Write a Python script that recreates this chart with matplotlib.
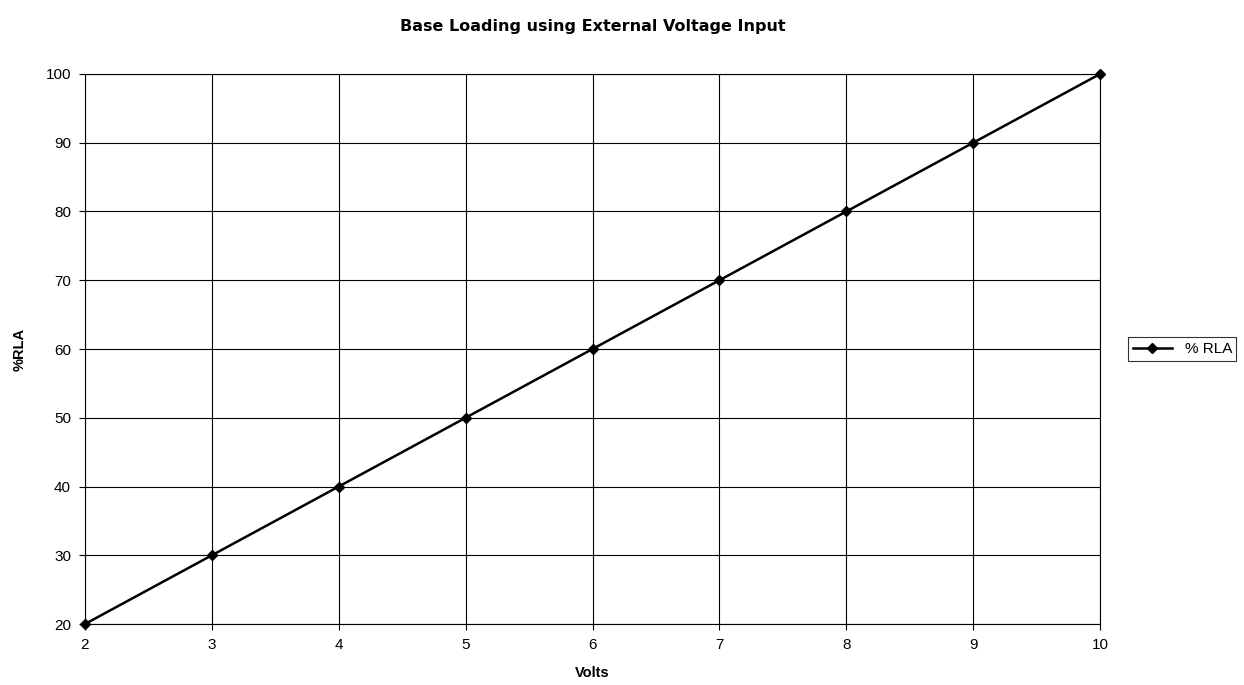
import numpy as np
import matplotlib
matplotlib.use('Agg')
import matplotlib.pyplot as plt

plt.rcParams['font.family'] = ['Liberation Sans', 'DejaVu Sans']

# data
volts = [2, 3, 4, 5, 6, 7, 8, 9, 10]
rla = [20, 30, 40, 50, 60, 70, 80, 90, 100]
x_ticks = [2, 3, 4, 5, 6, 7, 8, 9, 10]
y_ticks = [20, 30, 40, 50, 60, 70, 80, 90, 100]

fig = plt.figure(figsize=(12.44, 6.85), dpi=100)
ax = fig.add_axes([0.0683, 0.089, 0.816, 0.803])

ax.plot(volts, rla, color='black', lw=1.8, marker='D', ms=5, label='% RLA', clip_on=False, zorder=3)

ax.set_xlim(2, 10)
ax.set_ylim(20, 100)
ax.set_xticks(x_ticks)
ax.set_yticks(y_ticks)
ax.grid(True, color='black', lw=0.8)
for s in ax.spines.values():
    s.set_linewidth(0.8)
ax.tick_params(axis='both', direction='out', length=4, width=0.8, labelsize=11, pad=6)

ax.set_title('Base Loading using External Voltage Input', fontsize=11.5, fontweight='bold',
             family=['DejaVu Sans'], pad=31)
ax.set_xlabel('Volts', fontsize=10.5, fontweight='bold', labelpad=10)
ax.set_ylabel('%RLA', fontsize=10.5, fontweight='bold', labelpad=14)

leg = ax.legend(loc='center left', bbox_to_anchor=(1.02, 0.5), fontsize=11, frameon=True,
                fancybox=False, edgecolor='black', handlelength=2.6, borderpad=0.3)
leg.get_frame().set_linewidth(0.8)

plt.savefig('out.png', dpi=100)
